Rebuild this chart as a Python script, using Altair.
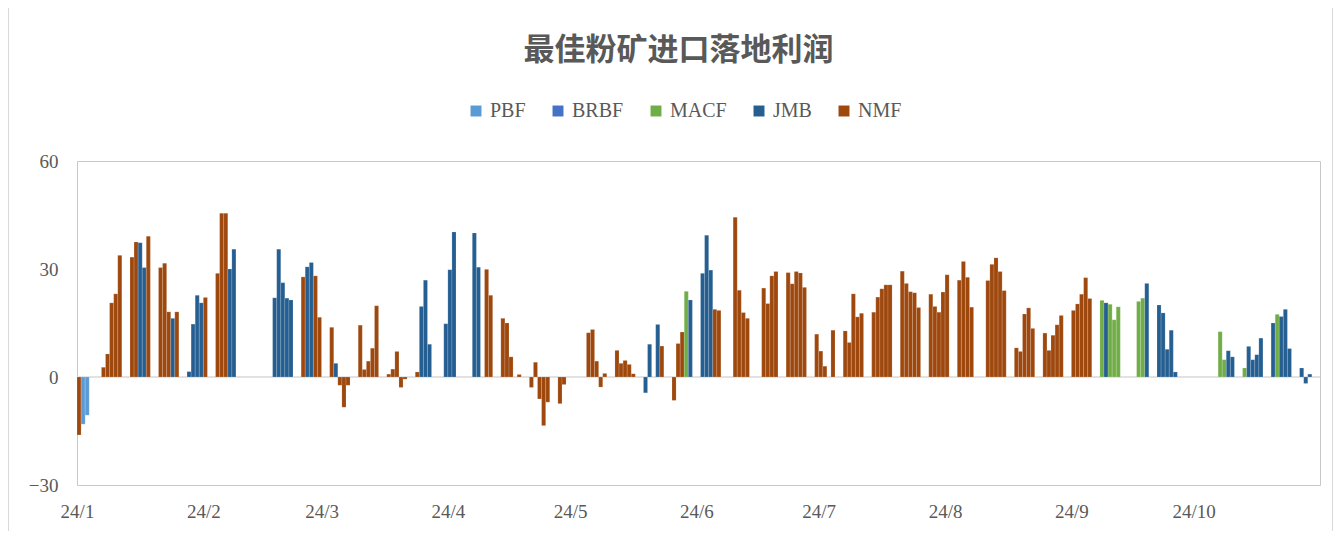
import altair as alt
import pandas as pd

# ---- data (one bar per day) ----
dates = [
    "01-01", "01-02", "01-03", "01-07", "01-08", "01-09", "01-10", "01-11",
    "01-14", "01-15", "01-16", "01-17", "01-18", "01-21", "01-22", "01-23",
    "01-24", "01-25", "01-28", "01-29", "01-30", "01-31", "02-01", "02-04",
    "02-05", "02-06", "02-07", "02-08", "02-18", "02-19", "02-20", "02-21",
    "02-22", "02-25", "02-26", "02-27", "02-28", "02-29", "03-03", "03-04",
    "03-05", "03-06", "03-07", "03-10", "03-11", "03-12", "03-13", "03-14",
    "03-17", "03-18", "03-19", "03-20", "03-21", "03-24", "03-25", "03-26",
    "03-27", "03-31", "04-01", "04-02", "04-07", "04-08", "04-10", "04-11",
    "04-14", "04-15", "04-16", "04-18", "04-21", "04-22", "04-23", "04-24",
    "04-25", "04-28", "04-29", "05-05", "05-06", "05-07", "05-08", "05-09",
    "05-12", "05-13", "05-14", "05-15", "05-16", "05-19", "05-20", "05-22",
    "05-23", "05-26", "05-27", "05-28", "05-29", "05-30", "06-02", "06-03",
    "06-04", "06-05", "06-06", "06-10", "06-11", "06-12", "06-13", "06-17",
    "06-18", "06-19", "06-20", "06-23", "06-24", "06-25", "06-26", "06-27",
    "06-30", "07-01", "07-02", "07-04", "07-07", "07-08", "07-09", "07-10",
    "07-11", "07-14", "07-15", "07-16", "07-17", "07-18", "07-21", "07-22",
    "07-23", "07-24", "07-25", "07-28", "07-29", "07-30", "07-31", "08-01",
    "08-04", "08-05", "08-06", "08-07", "08-11", "08-12", "08-13", "08-14",
    "08-15", "08-18", "08-19", "08-20", "08-21", "08-22", "08-25", "08-26",
    "08-27", "08-28", "08-29", "09-01", "09-02", "09-03", "09-04", "09-05",
    "09-08", "09-09", "09-10", "09-11", "09-12", "09-17", "09-18", "09-19",
    "09-22", "09-23", "09-24", "09-25", "09-26", "10-07", "10-08", "10-09",
    "10-10", "10-13", "10-14", "10-15", "10-16", "10-17", "10-20", "10-21",
    "10-22", "10-23", "10-24", "10-27", "10-28", "10-29",
]
series = [
    "NMF", "PBF", "PBF", "NMF", "NMF", "NMF", "NMF", "NMF",
    "NMF", "NMF", "JMB", "JMB", "NMF", "NMF", "NMF", "NMF",
    "JMB", "NMF", "JMB", "JMB", "JMB", "JMB", "NMF", "NMF",
    "NMF", "NMF", "JMB", "JMB", "JMB", "JMB", "JMB", "JMB",
    "JMB", "NMF", "JMB", "JMB", "NMF", "NMF", "NMF", "JMB",
    "NMF", "NMF", "NMF", "NMF", "NMF", "NMF", "NMF", "NMF",
    "NMF", "NMF", "NMF", "NMF", "NMF", "NMF", "JMB", "JMB",
    "JMB", "JMB", "JMB", "JMB", "JMB", "JMB", "NMF", "NMF",
    "NMF", "NMF", "NMF", "NMF", "NMF", "NMF", "NMF", "NMF",
    "NMF", "NMF", "NMF", "NMF", "NMF", "NMF", "NMF", "NMF",
    "NMF", "NMF", "NMF", "NMF", "NMF", "JMB", "JMB", "JMB",
    "NMF", "NMF", "NMF", "NMF", "MACF", "JMB", "JMB", "JMB",
    "JMB", "NMF", "NMF", "NMF", "NMF", "NMF", "NMF", "NMF",
    "NMF", "NMF", "NMF", "NMF", "NMF", "NMF", "NMF", "NMF",
    "NMF", "NMF", "NMF", "NMF", "NMF", "NMF", "NMF", "NMF",
    "NMF", "NMF", "NMF", "NMF", "NMF", "NMF", "NMF", "NMF",
    "NMF", "NMF", "NMF", "NMF", "NMF", "NMF", "NMF", "NMF",
    "NMF", "NMF", "NMF", "NMF", "NMF", "NMF", "NMF", "NMF",
    "NMF", "NMF", "NMF", "NMF", "NMF", "NMF", "NMF", "NMF",
    "NMF", "NMF", "NMF", "NMF", "NMF", "NMF", "NMF", "NMF",
    "MACF", "JMB", "MACF", "MACF", "MACF", "MACF", "MACF", "JMB",
    "JMB", "JMB", "JMB", "JMB", "JMB", "MACF", "MACF", "JMB",
    "JMB", "MACF", "JMB", "JMB", "JMB", "JMB", "JMB", "MACF",
    "JMB", "JMB", "JMB", "JMB", "JMB", "JMB",
]
values = [
    -16.1, -13.1, -10.6, 2.7, 6.4, 20.6, 23.1, 33.8,
    33.3, 37.5, 37.3, 30.4, 39.1, 30.4, 31.6, 18.1,
    16.3, 18.1, 1.5, 14.7, 22.7, 20.6, 22.1, 28.8,
    45.5, 45.5, 30.0, 35.5, 22.0, 35.5, 26.2, 21.9,
    21.4, 27.8, 30.6, 31.8, 28.1, 16.6, 13.8, 3.8,
    -2.3, -8.4, -2.3, 14.4, 2.1, 4.4, 8.0, 19.8,
    0.8, 2.2, 7.1, -2.9, -0.6, 1.4, 19.6, 26.9,
    9.1, 14.8, 29.8, 40.3, 40.0, 30.5, 29.9, 22.7,
    16.3, 15.0, 5.6, 0.7, -2.9, 4.1, -6.1, -13.5,
    -7.0, -7.4, -2.1, 12.3, 13.2, 4.4, -2.8, 1.0,
    7.4, 3.8, 4.6, 3.5, 0.9, -4.4, 9.1, 14.6,
    8.6, -6.5, 9.3, 12.5, 23.8, 21.4, 28.8, 39.4,
    29.7, 18.8, 18.5, 44.4, 24.1, 17.9, 16.3, 24.7,
    20.4, 28.1, 29.3, 29.0, 25.9, 29.3, 28.9, 24.9,
    11.9, 7.2, 3.0, 13.0, 12.8, 9.6, 23.1, 16.7,
    17.7, 18.0, 22.2, 24.5, 25.6, 25.6, 29.4, 26.0,
    23.7, 23.4, 19.3, 23.0, 19.6, 18.0, 23.6, 28.4,
    26.9, 32.1, 27.7, 19.4, 26.8, 31.3, 33.1, 29.3,
    24.0, 8.1, 7.1, 17.5, 19.2, 13.5, 12.2, 7.4,
    11.6, 14.5, 17.1, 18.5, 20.3, 23.0, 27.6, 21.8,
    21.3, 20.6, 20.2, 15.9, 19.5, 21.0, 21.9, 26.0,
    20.0, 17.8, 7.7, 13.0, 1.4, 12.6, 4.8, 7.3,
    5.6, 2.5, 8.5, 4.8, 6.2, 10.8, 15.0, 17.4,
    16.8, 18.8, 7.9, 2.5, -1.8, 0.8,
]
legend_order = ["PBF", "BRBF", "MACF", "JMB", "NMF"]
colors = ["#5B9BD5", "#4472C4", "#70AD47", "#255E91", "#9E480E"]
y_ticks = [-30, 0, 30, 60]
tick_months = [1, 2, 3, 4, 5, 6, 7, 8, 9, 10]
title_text = "最佳粉矿进口落地利润"

df = pd.DataFrame({
    "date": ["2024-" + d for d in dates],
    "series": series,
    "value": values,
})
df["end"] = (pd.to_datetime(df["date"]) + pd.Timedelta(days=1)).dt.strftime("%Y-%m-%d")

TXT = "#595959"
SERIF = "Liberation Serif"

x_scale = alt.Scale(
    type="utc",
    domain=[alt.DateTime(year=2024, month=1, date=1, utc=True),
            alt.DateTime(year=2024, month=11, date=1, utc=True)],
)

bars = alt.Chart(df).mark_bar(stroke="white", strokeWidth=0.4, strokeOpacity=0.4).encode(
    x=alt.X(
        "date:T",
        scale=x_scale,
        axis=alt.Axis(
            values=[alt.DateTime(year=2024, month=m, date=1, utc=True) for m in tick_months],
            labelExpr="utcFormat(datum.value, '%y/%-m')", title=None,
            labelFlush=False, labelOverlap=False, ticks=False, domain=False, grid=False,
            labelPadding=17, labelFont=SERIF, labelFontSize=19, labelColor=TXT,
        ),
    ),
    x2="end:T",
    y=alt.Y(
        "value:Q",
        stack=None,
        scale=alt.Scale(domain=[-30, 60], nice=False),
        axis=alt.Axis(
            values=y_ticks, title=None, grid=False, domain=False, ticks=False,
            labelFlush=False, labelOverlap=False,
            labelPadding=19, labelFont=SERIF, labelFontSize=19, labelColor=TXT,
        ),
    ),
    y2=alt.datum(0),
    color=alt.Color(
        "series:N",
        scale=alt.Scale(domain=legend_order, range=colors),
        legend=alt.Legend(
            title=None, orient="none", legendX=389, legendY=-60, direction="horizontal",
            symbolType="square", symbolSize=120, symbolStrokeWidth=0,
            labelFont=SERIF, labelFontSize=20, labelColor=TXT,
            columnPadding=22, labelOffset=4,
        ),
    ),
)

zero = alt.Chart(pd.DataFrame({"v": [0]})).mark_rule(color="#D9D9D9", strokeWidth=1.5).encode(
    y=alt.Y("v:Q")
)

# outer chart frame (left and right edges of the chart area)
frame_left = alt.Chart(pd.DataFrame({"v": [0]})).mark_rule(color="#D9D9D9", strokeWidth=1).encode(
    x=alt.value(-68.5), y=alt.value(-153), y2=alt.value(370)
)
frame_right = alt.Chart(pd.DataFrame({"v": [0]})).mark_rule(color="#D9D9D9", strokeWidth=1).encode(
    x=alt.value(1255.5), y=alt.value(-153), y2=alt.value(370)
)

chart = alt.layer(zero, bars, frame_left, frame_right).properties(
    width=1243,
    height=324,
    autosize=alt.AutoSizeParams(type="none"),
    padding={"left": 69, "top": 153, "right": 13, "bottom": 46},
    title=alt.TitleParams(
        title_text, font="Noto Sans CJK SC", fontSize=31, fontWeight="bold",
        color=TXT, anchor="middle", dx=-20, offset=-59,
    ),
).configure_view(stroke="#C9C9C9", strokeWidth=1)

chart.save("out.html", embed_options={"renderer": "svg", "actions": False})
